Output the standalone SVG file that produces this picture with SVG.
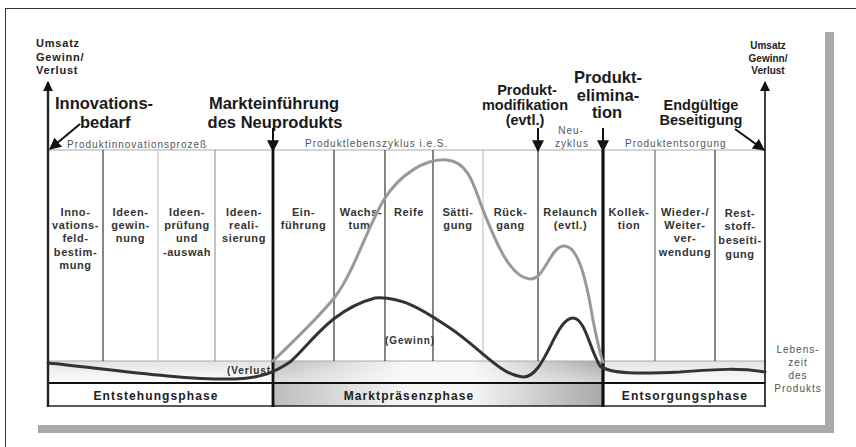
<svg xmlns="http://www.w3.org/2000/svg" width="856" height="447" viewBox="0 0 856 447">
  <style>
    .big { font-family: "Liberation Sans", Arial, sans-serif; font-weight: bold; font-size: 16.5px; fill: #1a1a1a; }
    .mid { font-family: "Liberation Sans", Arial, sans-serif; font-weight: bold; font-size: 14.5px; fill: #1a1a1a; }
    .axis { font-family: "Liberation Sans", Arial, sans-serif; font-weight: bold; fill: #222; }
    .col { font-family: "Liberation Sans", Arial, sans-serif; font-weight: bold; font-size: 11px; letter-spacing: 0.6px; fill: #333; text-anchor: middle; }
    .small { font-family: "Liberation Sans", Arial, sans-serif; font-size: 10px; letter-spacing: 1px; fill: #555; }
    .phase { font-family: "Liberation Sans", Arial, sans-serif; font-weight: bold; font-size: 12px; letter-spacing: 1.1px; fill: #222; text-anchor: middle; }
    .note { font-family: "Liberation Sans", Arial, sans-serif; font-weight: bold; font-size: 10px; letter-spacing: 0.9px; fill: #333; }
    .sep { stroke: #333; stroke-width: 1.2; }
    .sepl { stroke: #bbb; stroke-width: 1; }
    .thick { stroke: #111; stroke-width: 2.8; }
    .arr { stroke: #111; stroke-width: 2; fill: none; }
  </style>
  <defs>
    <marker id="head" viewBox="0 0 10 10" refX="9" refY="5" markerWidth="10" markerHeight="10" markerUnits="userSpaceOnUse" orient="auto">
      <path d="M0,0 L10,5 L0,10 Z" fill="#111"/>
    </marker>
    <marker id="headL" viewBox="0 0 10 10" refX="9" refY="5" markerWidth="12" markerHeight="12" markerUnits="userSpaceOnUse" orient="auto">
      <path d="M0,0 L10,5 L0,10 Z" fill="#111"/>
    </marker>
    <linearGradient id="fadeDown" x1="0" y1="0" x2="0" y2="1">
      <stop offset="0" stop-color="#e2e2e2"/>
      <stop offset="1" stop-color="#ffffff"/>
    </linearGradient>
    <linearGradient id="market" x1="0" y1="0" x2="1" y2="0">
      <stop offset="0" stop-color="#bdbdbd"/>
      <stop offset="0.4" stop-color="#f6f6f6"/>
      <stop offset="0.6" stop-color="#f6f6f6"/>
      <stop offset="1" stop-color="#a8a8a8"/>
    </linearGradient>
    <linearGradient id="marketV" x1="0" y1="0" x2="0" y2="1">
      <stop offset="0" stop-color="#ffffff" stop-opacity="0"/>
      <stop offset="1" stop-color="#ffffff" stop-opacity="0.5"/>
    </linearGradient>
  </defs>

  <!-- page frame and panel shadow -->
  <rect x="5.5" y="8.5" width="900" height="500" fill="#fff" stroke="#333" stroke-width="1"/>
  <rect x="825" y="32" width="9" height="401" fill="#aaa"/>
  <rect x="38" y="425" width="796" height="8" fill="#aaa"/>

  <!-- lower band and phase row backgrounds -->
  <g id="bands">
    <rect x="48" y="361" width="225" height="22" fill="url(#fadeDown)"/>
    <rect x="273" y="361" width="330" height="45" fill="url(#market)"/>
    <rect x="273" y="361" width="330" height="22" fill="url(#marketV)"/>
    <rect x="603" y="361" width="162" height="22" fill="url(#fadeDown)"/>
  </g>

  <!-- grid of the stages -->
  <g id="grid">
    <line x1="48" y1="150" x2="765" y2="150" stroke="#aaa" stroke-width="1"/>
    <line x1="48" y1="361" x2="765" y2="361" stroke="#aaa" stroke-width="1"/>
    <line x1="48" y1="383" x2="765" y2="383" stroke="#111" stroke-width="2"/>
    <line x1="48" y1="406" x2="765" y2="406" stroke="#222" stroke-width="1.5"/>
    <line x1="103" y1="150" x2="103" y2="361" class="sep"/>
    <line x1="158" y1="150" x2="158" y2="361" class="sepl"/>
    <line x1="215" y1="150" x2="215" y2="361" stroke="#888" stroke-width="1"/>
    <line x1="334" y1="150" x2="334" y2="361" class="sep"/>
    <line x1="385" y1="150" x2="385" y2="361" class="sep"/>
    <line x1="433" y1="150" x2="433" y2="361" class="sep"/>
    <line x1="483" y1="150" x2="483" y2="361" class="sepl"/>
    <line x1="538" y1="150" x2="538" y2="361" class="sep"/>
    <line x1="655" y1="150" x2="655" y2="361" stroke="#555" stroke-width="1"/>
    <line x1="715" y1="150" x2="715" y2="361" class="sep"/>
    <line x1="273" y1="150" x2="273" y2="407" class="thick"/>
    <line x1="603" y1="150" x2="603" y2="407" stroke="#111" stroke-width="3.2"/>
  </g>

  <!-- axes -->
  <g id="axes">
    <line x1="48" y1="407" x2="48" y2="82" stroke="#222" stroke-width="2.4" marker-end="url(#head)"/>
    <line x1="765" y1="407" x2="765" y2="82" stroke="#111" stroke-width="1.6" marker-end="url(#head)"/>
    <text class="axis" font-size="11" letter-spacing="0.8"><tspan x="36" y="47">Umsatz</tspan><tspan x="36" y="60.5">Gewinn/</tspan><tspan x="36" y="74">Verlust</tspan></text>
    <text class="axis" font-size="10" text-anchor="middle"><tspan x="768" y="48.5">Umsatz</tspan><tspan x="768" y="61.5">Gewinn/</tspan><tspan x="768" y="74">Verlust</tspan></text>
    <text class="small" text-anchor="middle" letter-spacing="0.6"><tspan x="798" y="353">Lebens-</tspan><tspan x="798" y="366">zeit</tspan><tspan x="798" y="379">des</tspan><tspan x="798" y="392">Produkts</tspan></text>
  </g>

  <!-- milestone callouts -->
  <g id="innovationsbedarf">
    <text class="big"><tspan x="55" y="108.5">Innovations-</tspan><tspan x="80" y="127.5">bedarf</tspan></text>
  </g>
  <g id="markteinfuehrung">
    <text class="big" text-anchor="middle"><tspan x="274" y="108.5">Markteinführung</tspan><tspan x="275" y="127.5">des Neuprodukts</tspan></text>
  </g>
  <g id="modifikation">
    <text class="mid" font-size="14" text-anchor="middle"><tspan x="527" y="95">Produkt-</tspan><tspan x="525" y="110">modifikation</tspan><tspan x="525" y="125">(evtl.)</tspan></text>
  </g>
  <g id="elimination">
    <text class="big" text-anchor="middle"><tspan x="608" y="83">Produkt-</tspan><tspan x="608" y="101">elimina-</tspan><tspan x="607" y="118">tion</tspan></text>
  </g>
  <g id="beseitigung">
    <text class="mid" text-anchor="middle"><tspan x="701" y="110">Endgültige</tspan><tspan x="701" y="125">Beseitigung</tspan></text>
  </g>

  <!-- section headings -->
  <g id="headings">
    <text class="small" x="67" y="148">Produktinnovationsprozeß</text>
    <text class="small" x="305" y="147">Produktlebenszyklus i.e.S.</text>
    <text class="small" text-anchor="middle" letter-spacing="0.5"><tspan x="571" y="134">Neu-</tspan><tspan x="572" y="147">zyklus</tspan></text>
    <text class="small" x="625" y="147">Produktentsorgung</text>
  </g>

  <!-- stage labels -->
  <g id="stages">
    <text class="col"><tspan x="75.5" y="216">Inno-</tspan><tspan x="75.5" y="229">vations-</tspan><tspan x="75.5" y="242">feld-</tspan><tspan x="75.5" y="256">bestim-</tspan><tspan x="75.5" y="269">mung</tspan></text>
    <text class="col"><tspan x="130.5" y="216">Ideen-</tspan><tspan x="130.5" y="229">gewin-</tspan><tspan x="130.5" y="242">nung</tspan></text>
    <text class="col"><tspan x="187" y="216">Ideen-</tspan><tspan x="187" y="229">prüfung</tspan><tspan x="187" y="242">und</tspan><tspan x="187" y="256">-auswah</tspan></text>
    <text class="col"><tspan x="244" y="216">Ideen-</tspan><tspan x="244" y="229">reali-</tspan><tspan x="244" y="242">sierung</tspan></text>
    <text class="col"><tspan x="303.5" y="216">Ein-</tspan><tspan x="303.5" y="229">führung</tspan></text>
    <text class="col"><tspan x="361" y="216">Wachs-</tspan><tspan x="359.5" y="229">tum</tspan></text>
    <text class="col"><tspan x="409" y="216">Reife</tspan></text>
    <text class="col"><tspan x="458" y="216">Sätti-</tspan><tspan x="458" y="229">gung</tspan></text>
    <text class="col"><tspan x="510.5" y="216">Rück-</tspan><tspan x="510.5" y="229">gang</tspan></text>
    <text class="col"><tspan x="570.5" y="216">Relaunch</tspan><tspan x="570.5" y="229">(evtl.)</tspan></text>
    <text class="col"><tspan x="629" y="216">Kollek-</tspan><tspan x="629" y="229">tion</tspan></text>
    <text class="col"><tspan x="685" y="216">Wieder-/</tspan><tspan x="685" y="229">Weiter-</tspan><tspan x="685" y="242">ver-</tspan><tspan x="685" y="256">wendung</tspan></text>
    <text class="col"><tspan x="740" y="217">Rest-</tspan><tspan x="740" y="230">stoff-</tspan><tspan x="740" y="244">beseiti-</tspan><tspan x="740" y="258">gung</tspan></text>
  </g>

  <!-- phase names -->
  <g id="phases">
    <text class="phase" x="156" y="399.5">Entstehungsphase</text>
    <text class="phase" x="409" y="399.5">Marktpräsenzphase</text>
    <text class="phase" x="685" y="399.5">Entsorgungsphase</text>
  </g>

  <!-- curve labels -->
  <g id="curve-labels">
    <text class="note" x="271" y="374" text-anchor="end">(Verlust</text>
    <text class="note" x="410" y="343.5" text-anchor="middle">(Gewinn)</text>
  </g>

  <!-- sales and profit curves -->
  <g id="curves" fill="none" stroke-linecap="round">
    <path d="M273,361 C295,340 318,318 335,297 C355,270 368,225 385,198 C400,175 425,158 447,160 C470,162 475,190 483,210 C495,240 510,278 530,279 C545,280 550,245 565,246 C580,247 588,290 593,320 C597,340 600,355 603,362" stroke="#999" stroke-width="3"/>
    <path d="M48,363 C100,368 180,380 235,379 C262,378 275,372 290,362 C310,345 330,310 375,298 C405,296 430,315 450,328 C480,348 500,375 523,377 C545,378 555,318 573,318 C585,318 590,350 600,366 C610,374 640,374 680,372 C720,369 740,368 765,372" stroke="#333" stroke-width="3"/>
  </g>

  <!-- pointer arrows -->
  <g id="connectors">
    <line x1="80" y1="124" x2="50" y2="149" class="arr" marker-end="url(#headL)"/>
    <line x1="273" y1="128" x2="273" y2="151" class="arr" marker-end="url(#headL)"/>
    <line x1="538" y1="128" x2="538" y2="151" class="arr" marker-end="url(#headL)"/>
    <line x1="603" y1="128" x2="603" y2="151" class="arr" stroke-width="2.6" marker-end="url(#headL)"/>
    <line x1="735" y1="129" x2="764" y2="150" class="arr" stroke-width="2.4" marker-end="url(#headL)"/>
  </g>
</svg>
